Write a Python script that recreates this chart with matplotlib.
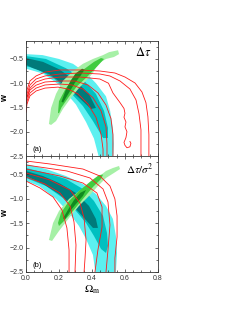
import numpy as np
import matplotlib
matplotlib.use('Agg')
import matplotlib.pyplot as plt
from matplotlib.ticker import MultipleLocator

plt.rcParams['mathtext.fontset'] = 'stix'
plt.rcParams['font.family'] = ['Liberation Sans', 'DejaVu Sans']

# colours of the confidence regions (3, 2, 1 sigma)
cyan_cols = ['#5cf0f0', '#00c0c0', '#007a7a']
green_cols = ['#a6f0a6', '#40cc40', '#108a20']

# ---- panel (a): contour outlines, (Omega_m, w)
a_cyan = [
    [(0, -0.40), (0.10, -0.42), (0.20, -0.50), (0.285, -0.60), (0.364, -0.79), (0.424, -1.00),
     (0.485, -1.27), (0.51, -1.57), (0.527, -1.92), (0.533, -2.25), (0.53, -2.5),
     (0.44, -2.5), (0.412, -2.14), (0.364, -1.80), (0.303, -1.44), (0.20, -1.03),
     (0.103, -0.80), (0, -0.70)],
    [(0, -0.44), (0.121, -0.50), (0.242, -0.69), (0.345, -0.92), (0.424, -1.22), (0.473, -1.57),
     (0.497, -1.92), (0.497, -2.13), (0.467, -2.13), (0.406, -1.78), (0.345, -1.47),
     (0.261, -1.16), (0.164, -0.89), (0.061, -0.70), (0, -0.65)],
    [(0, -0.48), (0.103, -0.56), (0.2, -0.71), (0.303, -0.96), (0.382, -1.22), (0.424, -1.51),
     (0.394, -1.53), (0.321, -1.30), (0.242, -1.06), (0.139, -0.81), (0.042, -0.69), (0, -0.62)],
]
a_green = [
    [(0.139, -1.84), (0.152, -1.51), (0.182, -1.22), (0.224, -0.95), (0.285, -0.75), (0.345, -0.60),
     (0.406, -0.50), (0.467, -0.42), (0.503, -0.36), (0.558, -0.32), (0.564, -0.40), (0.533, -0.46),
     (0.485, -0.50), (0.436, -0.60), (0.406, -0.79), (0.364, -0.95), (0.321, -1.10), (0.273, -1.30),
     (0.224, -1.53), (0.182, -1.78), (0.152, -1.86)],
    [(0.194, -1.61), (0.2, -1.37), (0.242, -1.10), (0.291, -0.89), (0.352, -0.71), (0.412, -0.56),
     (0.455, -0.48), (0.473, -0.50), (0.43, -0.66), (0.37, -0.87), (0.31, -1.06), (0.26, -1.28),
     (0.215, -1.50), (0.20, -1.62)],
    [(0.215, -1.38), (0.24, -1.15), (0.27, -0.95), (0.30, -0.80), (0.34, -0.70), (0.355, -0.72),
     (0.33, -0.85), (0.295, -1.0), (0.26, -1.20), (0.225, -1.40)],
]
a_red = [
    [(0, -1.27), (0.006, -1.14), (0.024, -0.954), (0.061, -0.85), (0.115, -0.77), (0.206, -0.727),
     (0.327, -0.727), (0.448, -0.748), (0.539, -0.789), (0.6, -0.872), (0.661, -0.995), (0.703, -1.18),
     (0.727, -1.40), (0.739, -1.69), (0.745, -2.06), (0.745, -2.5)],
    [(0, -1.33), (0.006, -1.22), (0.024, -1.036), (0.061, -0.913), (0.115, -0.85), (0.206, -0.81),
     (0.327, -0.789), (0.448, -0.81), (0.509, -0.851), (0.57, -0.954), (0.63, -1.119), (0.667, -1.345),
     (0.685, -1.63), (0.697, -1.96), (0.697, -2.5)],
    [(0, -1.39), (0.006, -1.28), (0.024, -1.10), (0.061, -0.975), (0.115, -0.913), (0.206, -0.872),
     (0.327, -0.872), (0.448, -0.913), (0.50, -1.0), (0.527, -1.20), (0.57, -1.40), (0.594, -1.52),
     (0.60, -1.62), (0.594, -1.70), (0.606, -1.80), (0.60, -1.90), (0.612, -2.0), (0.606, -2.12),
     (0.594, -2.22), (0.60, -2.28), (0.612, -2.33), (0.63, -2.31), (0.636, -2.24), (0.63, -2.20)],
    [(0, -1.49), (0.006, -1.30), (0.024, -1.14), (0.061, -1.04), (0.115, -0.975), (0.206, -0.954),
     (0.297, -0.954), (0.376, -1.036), (0.436, -1.20), (0.485, -1.45), (0.515, -1.73), (0.527, -2.06),
     (0.527, -2.5)],
    [(0, -1.53), (0.006, -1.37), (0.024, -1.20), (0.061, -1.10), (0.115, -1.036), (0.206, -1.016),
     (0.279, -1.036), (0.345, -1.12), (0.406, -1.30), (0.455, -1.57), (0.485, -1.90), (0.491, -2.25),
     (0.491, -2.5)],
    [(0, -1.60), (0.006, -1.43), (0.024, -1.26), (0.061, -1.16), (0.115, -1.10), (0.194, -1.08),
     (0.255, -1.12), (0.315, -1.22), (0.376, -1.43), (0.424, -1.70), (0.455, -2.05), (0.467, -2.36),
     (0.467, -2.5)],
]

# ---- panel (b)
b_cyan = [
    [(0, -0.293), (0.121, -0.396), (0.242, -0.539), (0.345, -0.702), (0.424, -0.906), (0.485, -1.151),
     (0.527, -1.417), (0.545, -1.764), (0.552, -2.112), (0.545, -2.5), (0.42, -2.5), (0.406, -2.153),
     (0.364, -1.826), (0.321, -1.56), (0.261, -1.29), (0.182, -1.008), (0.079, -0.743), (0, -0.641)],
    [(0, -0.375), (0.121, -0.477), (0.242, -0.60), (0.345, -0.804), (0.412, -1.049), (0.467, -1.356),
     (0.491, -1.703), (0.497, -1.969), (0.485, -2.112), (0.455, -2.03), (0.412, -1.764), (0.364, -1.499),
     (0.303, -1.254), (0.224, -0.988), (0.121, -0.743), (0, -0.579)],
    [(0, -0.436), (0.103, -0.539), (0.2, -0.682), (0.303, -0.886), (0.382, -1.151), (0.424, -1.417),
     (0.436, -1.60), (0.406, -1.60), (0.352, -1.397), (0.285, -1.151), (0.2, -0.906), (0.103, -0.702),
     (0, -0.539)],
]
b_green = [
    [(0.139, -1.846), (0.164, -1.499), (0.2, -1.254), (0.261, -1.008), (0.345, -0.784), (0.424, -0.60),
     (0.485, -0.436), (0.527, -0.375), (0.564, -0.334), (0.570, -0.396), (0.533, -0.477), (0.485, -0.579),
     (0.436, -0.743), (0.382, -0.947), (0.321, -1.151), (0.261, -1.397), (0.2, -1.662), (0.158, -1.866)],
    [(0.194, -1.499), (0.212, -1.294), (0.261, -1.049), (0.321, -0.845), (0.394, -0.641), (0.442, -0.52),
     (0.467, -0.51), (0.455, -0.60), (0.406, -0.763), (0.345, -1.008), (0.285, -1.254), (0.23, -1.46),
     (0.20, -1.56)],
    [(0.225, -1.40), (0.261, -1.192), (0.291, -1.029), (0.33, -0.88), (0.364, -0.825), (0.345, -0.947),
     (0.303, -1.11), (0.273, -1.233), (0.235, -1.43)],
]
b_red = [
    [(0, -0.232), (0.145, -0.293), (0.345, -0.396), (0.448, -0.539), (0.509, -0.743), (0.539, -1.008),
     (0.552, -1.356), (0.552, -1.785), (0.539, -2.214), (0.539, -2.5)],
    [(0, -0.314), (0.248, -0.436), (0.388, -0.579), (0.467, -0.804), (0.497, -1.07), (0.509, -1.54),
     (0.497, -2.05), (0.485, -2.5)],
    [(0, -0.396), (0.206, -0.539), (0.345, -0.682), (0.43, -0.886), (0.461, -1.172), (0.461, -1.581),
     (0.436, -2.05), (0.418, -2.5)],
    [(0, -0.477), (0.145, -0.62), (0.267, -0.825), (0.327, -1.09), (0.352, -1.397), (0.364, -1.846),
     (0.358, -2.214), (0.352, -2.5)],
    [(0, -0.559), (0.115, -0.702), (0.206, -0.886), (0.267, -1.151), (0.291, -1.478), (0.303, -1.948),
     (0.297, -2.5)],
    [(0, -0.641), (0.085, -0.784), (0.164, -0.968), (0.218, -1.233), (0.248, -1.60), (0.261, -2.05),
     (0.261, -2.5)],
]

panels = [
    (a_cyan, a_green, a_red, r'$\Delta\tau$', '(a)', 9, (0.886, 0.90)),
    (b_cyan, b_green, b_red, r'$\Delta\tau/\sigma^2$', '(b)', 8, (0.864, 0.88)),
]

fig = plt.figure(figsize=(2.49, 3.23), dpi=100)
boxes = [[0.1044, 0.517, 0.530, 0.356], [0.1044, 0.158, 0.530, 0.359]]

for i, (cyan, green, red, title, tag, tsize, tpos) in enumerate(panels):
    ax = fig.add_axes(boxes[i])
    # filled regions, outer level first
    for poly, c in zip(cyan, cyan_cols):
        p = np.array(poly)
        ax.fill(p[:, 0], p[:, 1], color=c, lw=0)
    for poly, c in zip(green, green_cols):
        p = np.array(poly)
        ax.fill(p[:, 0], p[:, 1], color=c, lw=0)
    for line in red:
        p = np.array(line)
        ax.plot(p[:, 0], p[:, 1], color='#ff1a1a', lw=0.6)

    ax.set_xlim(0, 0.8)
    ax.set_ylim(-2.5, -0.13)
    ax.xaxis.set_major_locator(MultipleLocator(0.2))
    ax.xaxis.set_minor_locator(MultipleLocator(0.05))
    ax.yaxis.set_major_locator(MultipleLocator(0.5))
    ax.yaxis.set_minor_locator(MultipleLocator(0.25))
    ax.tick_params(which='both', direction='in', top=True, right=True,
                   width=0.5, labelsize=5, colors='#333333')
    ax.tick_params(axis='y', pad=1.5)
    ax.tick_params(axis='x', pad=2.5)
    ax.tick_params(which='major', length=2.2)
    ax.tick_params(which='minor', length=1.3)
    for s in ax.spines.values():
        s.set_linewidth(0.6)
        s.set_color('#333333')
    ax.set_ylabel('w', fontsize=6.5, fontweight='bold')
    ax.yaxis.set_label_coords(-0.125, 0.5)
    ax.text(tpos[0], tpos[1], title, transform=ax.transAxes, fontsize=tsize,
            ha='center', va='center')
    ax.text(0.087, 0.058, tag, transform=ax.transAxes, fontsize=5.5,
            ha='center', va='center')
    if i == 0:
        ax.tick_params(labelbottom=False)
    else:
        ax.set_xlabel(r'$\Omega_{\rm m}$', fontsize=8, labelpad=1)

fig.savefig('out.png', dpi=100)
